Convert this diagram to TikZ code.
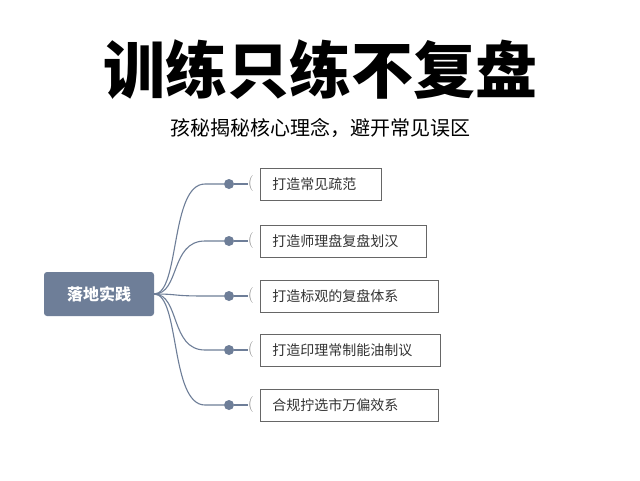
\documentclass[tikz,border=0pt]{standalone}
\usepackage{fontspec}
\newfontfamily\cjk{Noto Sans CJK SC}
\definecolor{slate}{HTML}{6E7E98}
\begin{document}
\begin{tikzpicture}[x=1pt,y=-1pt,
  br/.style={draw=black!60,line width=0.6pt,minimum height=32pt,anchor=west,font=\cjk\fontsize{14}{14}\selectfont,text=black!80,inner xsep=12pt,align=left},
  conn/.style={draw=slate,line width=1.1pt},
  dot/.style={circle,fill=slate,inner sep=0pt,minimum size=10pt}]
\useasboundingbox (0,0) rectangle (640,480);
\fill[white] (0,0) rectangle (640,480);
\node (t) at (320,70) {\cjk\bfseries\fontsize{62}{62}\selectfont 训练只练不复盘};
\node (s) at (320,128) {\cjk\fontsize{20}{20}\selectfont 孩秘揭秘核心理念，避开常见误区};
\node[fill=slate,rounded corners=3pt,minimum width=110pt,minimum height=44pt,text=white,font=\cjk\bfseries\fontsize{16}{16}\selectfont] (r) at (99,294) {落地实践};
\foreach \i/\y/\w/\t in {1/184/97/打造常见疏范,2/241/142/打造师理盘复盘划汉,3/296/154/打造标观的复盘体系,4/350/156/打造印理常制能油制议,5/405/154/合规拧选市万偏效系}{
  \node[dot] (d\i) at (229,\y) {};
  \node[br,text width=\w pt] (b\i) at (260,\y) {\t};
  \node[font=\fontsize{16}{16}\selectfont,text=black!50,inner sep=0pt] (p\i) at (251,\y) {(};
  \draw[conn] (r.east) .. controls (180,294) and (170,\y) .. (205,\y) -- (d\i);
  \draw[conn] (d\i) -- (p\i.west);
}
\end{tikzpicture}
\end{document}
